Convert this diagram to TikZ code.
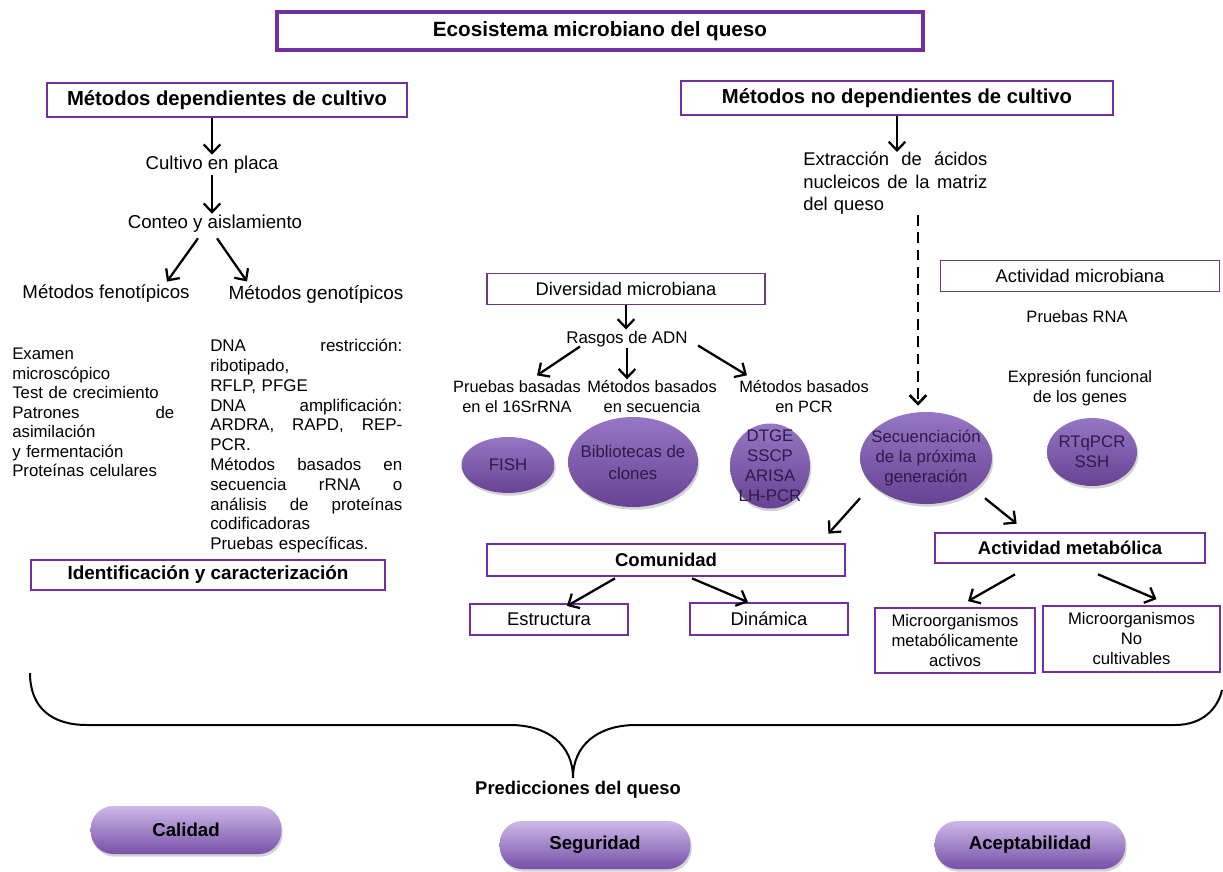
\documentclass[tikz,border=0pt]{standalone}
\usepackage{fontspec}
\setmainfont{Liberation Sans}
\usetikzlibrary{arrows.meta,positioning,calc,shadows,shapes.geometric}
\definecolor{boxpurple}{HTML}{7030A0}
\definecolor{linepurple}{HTML}{6B3A86}
\definecolor{elltop}{HTML}{9677C4}
\definecolor{ellbot}{HTML}{684294}
\definecolor{elltext}{HTML}{2E1A4A}
\definecolor{pilltop}{HTML}{CDB9E8}
\definecolor{pillbot}{HTML}{784FA9}
\newcommand\fs[2]{\fontsize{#1}{#2}\selectfont}
\newcommand\jus[2]{\makebox[#1][l]{\hbox to #1{#2}}}

\begin{document}
\begin{tikzpicture}[x=0.75pt,y=-0.75pt,
        arr/.style={-{Straight Barb[length=6.5pt,width=12.5pt]},line width=1.7pt},
        ell/.style={ellipse,inner sep=0pt,top color=elltop,bottom color=ellbot,
                draw=none,drop shadow={shadow xshift=1pt,shadow yshift=-2pt,opacity=.35}},
        elltxt/.style={align=center,text=elltext,font=\fs{12.6}{15}},
        pill/.style={rounded corners=17pt,inner sep=0pt,top color=pilltop,bottom color=pillbot,
                minimum width=143pt,minimum height=36pt,font=\bfseries\fs{14}{16},
                drop shadow={shadow xshift=1pt,shadow yshift=-2pt,opacity=.35}}]%
        \useasboundingbox (0,0) rectangle (1223,871); %%
        %\draw[step=100,color=gray,very thin] (0,0) grid (1223,871);%%
        % boxes
        \node[draw=boxpurple,line width=3pt,inner sep=0pt,minimum width=484.5pt,minimum height=28.5pt,
                font=\bfseries\fs{15.5}{18}] (eco) at (600,31) {Ecosistema microbiano del queso}; %%
        \begin{scope}[every node/.style={draw=boxpurple,line width=1.6pt,inner sep=0pt,
                minimum height=25.5pt,font=\bfseries\fs{15.2}{18}}]
        \node[minimum width=270pt] (dep) at (227,100) {Métodos dependientes de cultivo}; %%
        \node[minimum width=324pt] (nodep) at (897,98) {Métodos no dependientes de cultivo}; %%
        \node[minimum width=265pt,minimum height=23pt,font=\bfseries\fs{14.2}{17}] (ident) at (208,575)
                {Identificación y caracterización}; %%
        \node[minimum width=268.5pt,minimum height=24pt,line width=2pt,font=\bfseries\fs{13.9}{16}] (com)
                at (666,560) {Comunidad}; %%
        \node[minimum width=202.5pt,minimum height=22.5pt,line width=2pt,font=\bfseries\fs{13.8}{16}] (actmet)
                at (1070,548) {Actividad metabólica}; %%
        \end{scope}
        \begin{scope}[every node/.style={draw=linepurple,line width=1pt,inner sep=0pt,
                minimum height=23.5pt,font=\fs{13.7}{16}}]
        \node[minimum width=208.5pt] (div) at (626,289) {Diversidad microbiana}; %%
        \node[minimum width=209pt] (actm) at (1080,276) {Actividad microbiana}; %%
        \end{scope}
        \begin{scope}[every node/.style={draw=boxpurple,line width=1.3pt,inner sep=0pt,align=center}]
        \node[minimum width=118.5pt,minimum height=23.5pt,font=\fs{13.8}{16}] (estr) at (549,619.5) {Estructura}; %%
        \node[minimum width=118.5pt,minimum height=24pt,font=\fs{13.8}{16}] (dina) at (769,619) {Dinámica}; %%
        \node[minimum width=120pt,minimum height=48.75pt,font=\fs{12.5}{15}] (mact) at (955,640.5)
                {Microorganismos\\metabólicamente\\activos}; %%
        \node[minimum width=133pt,minimum height=49.5pt,font=\fs{12.5}{15}] (mnc) at (1131.5,639)
                {Microorganismos\\No\\cultivables}; %%
        \end{scope}
        % plain texts
        \begin{scope}[every node/.style={inner sep=1pt,align=center}]
        \node[font=\fs{14}{16}] (cultivo) at (212,165) {Cultivo en placa}; %%
        \node[font=\fs{14}{16}] (conteo) at (215,224) {Conteo y aislamiento}; %%
        \node[font=\fs{14}{16}] (feno) at (106,294) {Métodos fenotípicos}; %%
        \node[font=\fs{14.2}{16}] (geno) at (316,294) {Métodos genotípicos}; %%
        \node[font=\fs{12.7}{15}] (rasgos) at (627,339) {Rasgos de ADN}; %%
        \node[font=\fs{12.3}{15}] (p16) at (517,397) {Pruebas basadas\\en el 16SrRNA}; %%
        \node[font=\fs{12.3}{15}] (psec) at (652,397) {Métodos basados\\en secuencia}; %%
        \node[font=\fs{12.3}{15}] (ppcr) at (804,397) {Métodos basados\\en PCR}; %%
        \node[font=\fs{12.4}{15}] (prna) at (1077,317) {Pruebas RNA}; %%
        \node[font=\fs{12.4}{15}] (expr) at (1080,388) {Expresión funcional\\de los genes}; %%
        \node[font=\bfseries\fs{13.8}{16}] (pred) at (578,790) {Predicciones del queso}; %%
        \end{scope}
        \begin{scope}[every node/.style={inner sep=0pt,anchor=north west,align=left}]
        \node[text width=121.5pt,font=\fs{12.6}{14.6}] (feno list) at (12,348)
                {Examen\\microscópico\\Test de crecimiento\\\jus{121.5pt}{Patrones\hfill de}\\asimilación\\
                y fermentación\\Proteínas celulares}; %%
        \node[text width=144pt,font=\fs{12.7}{14.85}] (geno list) at (210,339)
                {\jus{144pt}{DNA\hfill restricción:}\\ribotipado,\\RFLP, PFGE\\
                \jus{144pt}{DNA\hfill amplificación:}\\\jus{144pt}{ARDRA,\hfill RAPD,\hfill REP-}\\PCR.\\
                \jus{144pt}{Métodos\hfill basados\hfill en}\\\jus{144pt}{secuencia\hfill rRNA\hfill o}\\
                \jus{144pt}{análisis\hfill de\hfill proteínas}\\codificadoras\\Pruebas específicas.}; %%
        \node[text width=138pt,font=\fs{13.8}{16.9}] (extr) at (803,152)
                {\jus{138pt}{Extracción\hfill de\hfill ácidos}\\\jus{138pt}{nucleicos\hfill de\hfill la\hfill matriz}\\
                del queso}; %%
        \end{scope}
        % ellipses
        \node[ell,minimum width=69.75pt,minimum height=42pt,label={[elltxt]center:FISH}] (fish) at (508,465) {}; %%
        \node[ell,minimum width=97.5pt,minimum height=67.5pt,
                label={[elltxt,font=\fs{12.6}{16.5}]center:{Bibliotecas de\\clones}}] (biblio) at (633,462) {}; %%
        \node[ell,minimum width=60pt,minimum height=63.75pt,
                label={[elltxt]center:{DTGE\\SSCP\\ARISA\\LH-PCR}}] (dtge) at (770,466) {}; %%
        \node[ell,minimum width=99pt,minimum height=69pt,
                label={[elltxt]center:{Secuenciación\\de la próxima\\generación}}] (secu) at (926,458) {}; %%
        \node[ell,minimum width=67.5pt,minimum height=51pt,
                label={[elltxt]center:{RTqPCR\\SSH}}] (rtq) at (1092,452) {}; %%
        % prediction pills
        \node[pill] (cal) at (186,830) {Calidad}; %%
        \node[pill] (seg) at (595,845) {Seguridad}; %%
        \node[pill] (acep) at (1030,845) {Aceptabilidad}; %%
        % arrows
        \draw[arr] (dep.south -| cultivo.north) -- (cultivo.north); %%
        \draw[arr] (cultivo.south) -- (cultivo.south |- conteo.north); %%
        \draw[arr] ($(conteo.south)+(-17,4)$) -- ($(feno.north)+(61,-2)$); %%
        \draw[arr] ($(conteo.south)+(2,4)$) -- ($(geno.north)+(-69,-2)$); %%
        \draw[arr] (div.south) -- (div.south |- rasgos.north); %%
        \draw[arr] ($(rasgos.south)+(-47,-2)$) -- ($(p16.north)+(20,-4)$); %%
        \draw[arr] (rasgos.south) -- (rasgos.south |- psec.north); %%
        \draw[arr] ($(rasgos.south)+(71,-3)$) -- ($(ppcr.north)+(-57,-4)$); %%
        \draw[arr] (nodep.south) -- (nodep.south |- extr.north); %%
        \draw[arr,line width=2pt,dash pattern=on 8pt off 5pt] ($(secu.north |- extr.south)+(-8,0)$)
                -- ($(secu.north)+(-8,-6)$); %%
        \draw[arr] ($(secu.south)+(-66,-6)$) -- ($(com.north east)+(-18,-9)$); %%
        \draw[arr] ($(secu.south)+(59,-6)$) -- ($(actmet.north west)+(83,-8)$); %%
        \draw[arr] ($(com.south)+(-51,1)$) -- ($(estr.north)+(18,3)$); %%
        \draw[arr] ($(com.south)+(26,1)$) -- ($(dina.north)+(-21,0)$); %%
        \draw[arr] ($(actmet.south)+(-55,10)$) -- ($(mact.north)+(13,-6)$); %%
        \draw[arr] ($(actmet.south)+(28,10)$) -- ($(mnc.north)+(25,-6)$); %%
        % brace
        \coordinate (tip) at ($(pred.north)+(-5,-2)$); %%
        \draw[line width=1.5pt] (30,673) .. controls (30,708) and (52,725) .. (87,725) -- (510,725)
                .. controls (548,725) and (tip |- 0,745) .. (tip)
                .. controls (tip |- 0,745) and (598,725) .. (636,725) -- (1175,725)
                .. controls (1203,725) and (1218,708) .. (1222,690); %%
\end{tikzpicture}
\end{document}
